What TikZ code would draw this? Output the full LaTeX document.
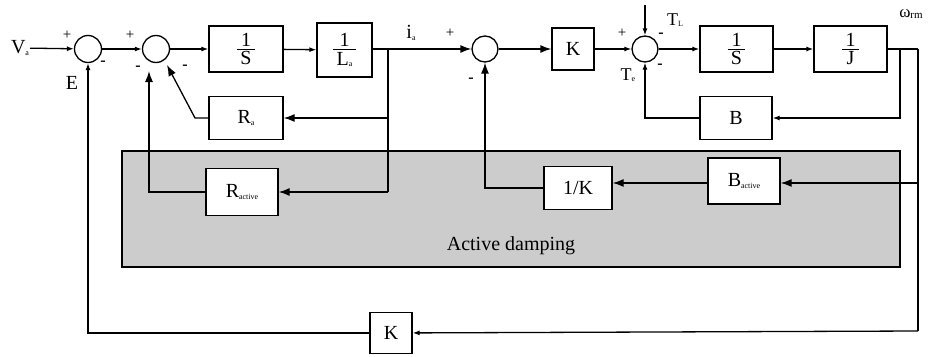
\documentclass[tikz,border=0pt]{standalone}
\usepackage{fontspec}
\setmainfont{Liberation Serif}
\usetikzlibrary{arrows.meta}
\newcommand{\sbs}[1]{\raisebox{-1.5pt}{\fontsize{8}{8}\selectfont #1}}
\newcommand{\frc}[2]{$\frac{\mbox{\,#1\,}\rule[-2.5pt]{0pt}{2.5pt}}{\rule{0pt}{15pt}\mbox{\,#2\,}}$}
\definecolor{dampgray}{HTML}{CCCCCC}
\begin{document}
\begin{tikzpicture}[x=1pt,y=-1pt,
  blk/.style={draw, line width=1.3pt, fill=white, inner sep=0pt, font=\fontsize{20}{24}\selectfont},
  sumc/.style={circle, draw, line width=1.3pt, minimum size=27pt, inner sep=0pt, fill=white},
  lbl/.style={inner sep=0pt, font=\fontsize{20}{24}\selectfont},
  pl/.style={inner sep=0pt, font=\fontsize{15}{15}\selectfont},
  mn/.style={inner sep=0pt, font=\bfseries\fontsize{16}{16}\selectfont},
  ln/.style={line width=1.3pt},
  sa/.style={ln, -{Latex[length=7pt,width=5pt]}},
  ba/.style={ln, -{Latex[length=11pt,width=8pt]}}]
\useasboundingbox (0,0) rectangle (928,356);

% active damping region
\draw[ln, fill=dampgray] (122,151) rectangle (900,267);
\node[lbl] (adl) at (511,246) {Active damping};

% forward path
\node[lbl, inner sep=1pt] (Va) at (20,48) {V\sbs{a}};
\node[sumc] (s1) at (88,49) {};
\node[sumc] (s2) at (156,49) {};
\node[blk, minimum width=74pt, minimum height=46pt] (bS1) at (246,49) {\frc{1}{S}};
\node[blk, minimum width=55pt, minimum height=54pt] (bL) at (344.5,50) {\frc{1}{L\sbs{a}}};
\coordinate (j1) at (388,49);
\node[sumc, minimum size=26pt] (s3) at (485,49) {};
\node[blk, minimum width=42pt, minimum height=42pt] (bK) at (573,49) {K};
\node[sumc, minimum size=26pt] (s4) at (645,49) {};
\node[blk, minimum width=73pt, minimum height=46pt] (bS2) at (736.5,49) {\frc{1}{S}};
\node[blk, minimum width=73pt, minimum height=46pt] (bJ) at (850.5,49) {\frc{1}{J}};
\coordinate (jb) at (900,49);
\coordinate (jo) at (918,49);

% feedback blocks
\node[blk, minimum width=74pt, minimum height=43pt] (bRa) at (246,118) {R\sbs{a}};
\node[blk, minimum width=72pt, minimum height=43pt] (bB) at (736,118) {B};
\node[blk, minimum width=72pt, minimum height=47pt] (bRact) at (242,192) {R\sbs{active}};
\node[blk, minimum width=68pt, minimum height=43pt] (bKinv) at (578,188) {1/K};
\node[blk, minimum width=72pt, minimum height=46pt] (bBact) at (744,181) {B\sbs{active}};
\node[blk, minimum width=42pt, minimum height=41pt] (bKb) at (391,333) {K};

\coordinate (ja) at (388,118);
\coordinate (jr) at (388,192);
\coordinate (cba) at (918,183);
\coordinate (cbr) at (918,331);
\coordinate (c2in) at (149,71);
\coordinate (cra) at (195,118);
\coordinate (ra2) at (167,65);
\coordinate (tl) at (645,5);

% forward connectors
\draw[sa] (Va) -- (s1);
\draw[sa] (s1) -- (s2);
\draw[sa] (s2) -- (bS1);
\draw[sa] (bS1) -- (bL);
\draw[ln] (bL.east |- j1) -- (j1);
\draw[ba] (j1) -- (s3);
\draw[ba] (s3) -- (bK);
\draw[sa] (bK) -- (s4);
\draw[sa] (s4) -- (bS2);
\draw[sa] (bS2) -- (bJ);
\draw[ln] (bJ.east |- jo) -- (jo);
\draw[sa] (tl) -- (s4);

% feedback connectors
\draw[ln] (j1) -- (jr);
\draw[ba] (ja) -- (bRa);
\draw[ba] (bRa.west) -- (cra) -- (ra2);
\draw[ba] (jr) -- (bRact);
\draw[ba] (bRact.west) -| (c2in);
\draw[sa] (jb) |- (bB);
\draw[sa] (bB) -| (s4);
\draw[ln] (jo) -- (cbr);
\draw[ba] (cba) -- (cba -| bBact.east);
\draw[ba] (bBact.west |- cba) -- (cba -| bKinv.east);
\draw[ba] (bKinv.west) -| (s3);
\draw[sa] (cbr) -- (bKb);
\draw[sa] (bKb) -| (s1);

% signs and labels
\node[pl] (p1) at (67,35) {+};
\node[mn] (m1) at (103,63) {-};
\node[lbl] (E) at (72,83) {E};
\node[pl] (p2) at (130,35) {+};
\node[mn] (m2) at (138,68) {-};
\node[mn] (m3) at (185,67) {-};
\node[lbl] (ia) at (411,33) {i\sbs{a}};
\node[pl] (p3) at (450,33) {+};
\node[mn] (m4) at (471,80) {-};
\node[pl] (p4) at (622,33) {+};
\node[lbl, font=\fontsize{18}{20}\selectfont] (TL) at (675,20) {T\sbs{L}};
\node[mn] (m5) at (661,35) {-};
\node[lbl, font=\fontsize{18}{20}\selectfont] (Te) at (628,75) {T\sbs{e}};
\node[mn] (m6) at (660,66) {-};
\node[lbl, font=\fontsize{17}{20}\selectfont] (om) at (911,14) {ω\raisebox{-1pt}{\fontsize{11}{11}\selectfont rm}};
\end{tikzpicture}
\end{document}
